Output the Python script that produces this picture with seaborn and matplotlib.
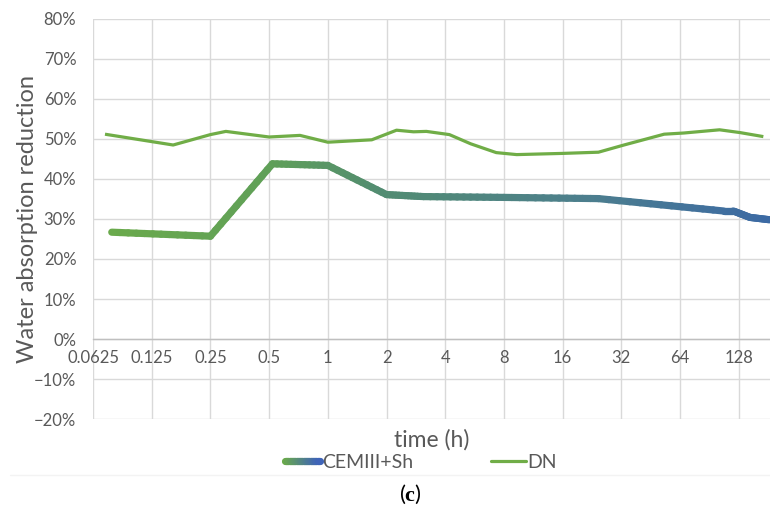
import numpy as np
import pandas as pd
import seaborn as sns
import matplotlib
matplotlib.use("Agg")
import matplotlib.pyplot as plt
from matplotlib.collections import LineCollection
from matplotlib.colors import LinearSegmentedColormap
from matplotlib.legend_handler import HandlerBase
from matplotlib.lines import Line2D
from matplotlib.ticker import FixedLocator, FuncFormatter, NullLocator

# ---------------- data ----------------
dn_time = [0.072, 0.161, 0.25, 0.30, 0.5, 0.72, 1.0, 1.68, 2.25, 2.75, 3.2, 4.2,
           5.4, 7.3, 9.3, 16, 24.4, 33, 53, 67, 102, 130, 171]
dn_value = [51.2, 48.5, 51.1, 51.9, 50.5, 50.9, 49.2, 49.8, 52.2, 51.8, 51.9, 51.1,
            48.8, 46.6, 46.1, 46.4, 46.7, 48.5, 51.2, 51.5, 52.3, 51.6, 50.6]

cem_time = [0.078, 0.25, 0.52, 1.0, 2.0, 3.1, 8.0, 24.4, 107, 120, 146, 185]
cem_value = [26.7, 25.7, 43.8, 43.4, 36.1, 35.6, 35.4, 35.1, 32.0, 32.0, 30.4, 29.8]

x_ticks = [0.0625, 0.125, 0.25, 0.5, 1, 2, 4, 8, 16, 32, 64, 128]
x_tick_labels = ["0.0625", "0.125", "0.25", "0.5", "1", "2", "4", "8", "16", "32", "64", "128"]
y_ticks = [-20, -10, 0, 10, 20, 30, 40, 50, 60, 70, 80]

series_names = ["CEMIII+Sh", "DN"]
x_title = "time (h)"
y_title = "Water absorption reduction"
caption_letter = "c"

# ---------------- style ----------------
sns.set_theme(style="white")
plt.rcParams["font.family"] = ["Lato", "DejaVu Sans"]
plt.rcParams["mathtext.fontset"] = "custom"
plt.rcParams["mathtext.rm"] = "Liberation Serif"
plt.rcParams["mathtext.bf"] = "Liberation Serif:bold"

TXT = "#595959"
GRID = "#D9D9D9"
DN_COLOR = "#70AD47"
cem_cmap = LinearSegmentedColormap.from_list(
    "cem", [(0.0, "#6BAB4A"), (0.26, "#60A058"), (0.43, "#528C72"),
            (0.74, "#4C7E8E"), (1.0, "#3C6AA4")])
leg_cmap = LinearSegmentedColormap.from_list("leg", ["#6BAB4A", "#3F64B8"])

XMIN, XMAX = 0.0625, 185.0

fig = plt.figure(figsize=(7.7, 5.05), dpi=100)
fig.patch.set_facecolor("white")
ax = fig.add_axes([93 / 770, 1 - 419 / 505, 677 / 770, 400 / 505])

ax.set_xscale("log", base=2)
ax.set_xlim(XMIN, XMAX)
ax.set_ylim(-20, 80)

# DN line
df_dn = pd.DataFrame({"time": dn_time, "value": dn_value})
sns.lineplot(data=df_dn, x="time", y="value", ax=ax, color=DN_COLOR,
             linewidth=2.3, estimator=None, sort=False, zorder=3,
             solid_capstyle="butt")

# CEMIII+Sh gradient line (segments between read points, subdivided for colour)
ct = np.log2(np.array(cem_time, dtype=float))
cv = np.array(cem_value, dtype=float)
segs, cols = [], []
lo, hi = np.log2(XMIN), np.log2(XMAX)
for i in range(len(ct) - 1):
    n = 12
    fr = np.linspace(0, 1, n + 1)
    lx = ct[i] + (ct[i + 1] - ct[i]) * fr
    ly = cv[i] + (cv[i + 1] - cv[i]) * fr
    for k in range(n):
        segs.append([(2 ** lx[k], ly[k]), (2 ** lx[k + 1], ly[k + 1])])
        cols.append(cem_cmap(((lx[k] + lx[k + 1]) / 2 - lo) / (hi - lo)))
lc = LineCollection(segs, colors=cols, linewidths=5.2, capstyle="round",
                    joinstyle="round", zorder=4)
ax.add_collection(lc)

# axes styling
ax.xaxis.set_major_locator(FixedLocator(x_ticks))
ax.xaxis.set_minor_locator(NullLocator())
ax.set_xticklabels(x_tick_labels)
ax.yaxis.set_major_locator(FixedLocator(y_ticks))
ax.yaxis.set_major_formatter(FuncFormatter(
    lambda v, p: (f"{int(v)}%" if v >= 0 else f"\u2212{int(-v)}%")))
ax.grid(True, color=GRID, linewidth=1.0)
for s in ["top", "right", "left"]:
    ax.spines[s].set_visible(False)
ax.spines["bottom"].set_position(("data", 0))
ax.spines["bottom"].set_color("#BFBFBF")
ax.spines["bottom"].set_linewidth(1.0)
ax.tick_params(axis="both", length=0, colors=TXT, labelsize=12)
ax.tick_params(axis="x", pad=8)
ax.tick_params(axis="y", pad=12)

ax.set_xlabel(x_title, fontsize=16.5, color=TXT)
ax.set_ylabel(y_title, fontsize=17, color=TXT)
ax.xaxis.set_label_coords(0.5, -0.025)
ax.xaxis.label.set_va("top")
ax.yaxis.set_label_coords(-0.097, 0.5)
ax.yaxis.label.set_va("center")


# legend with gradient handle
class GradientHandler(HandlerBase):
    def create_artists(self, legend, orig_handle, xdescent, ydescent,
                       width, height, fontsize, trans):
        n = 30
        xs = np.linspace(0, width, n + 1) - xdescent
        y = height / 2 - ydescent
        sg = [[(xs[i], y), (xs[i + 1], y)] for i in range(n)]
        c = leg_cmap(np.linspace(0, 1, n))
        art = LineCollection(sg, colors=c, linewidths=5.2, capstyle="round",
                             transform=trans)
        return [art]


cem_handle = Line2D([], [], color="#5590A0", linewidth=5.2)
dn_handle = Line2D([], [], color=DN_COLOR, linewidth=2.3)
leg = fig.legend([cem_handle, dn_handle], series_names,
                 loc="center", bbox_to_anchor=(421 / 770, 1 - 462.7 / 505),
                 ncol=2, frameon=False, fontsize=14, handlelength=1.8,
                 handletextpad=0.1, columnspacing=4.0,
                 handler_map={cem_handle: GradientHandler()})
for t in leg.get_texts():
    t.set_color(TXT)

# faint separator and caption
fig.add_artist(Line2D([10 / 770, 1.0], [1 - 475 / 505] * 2, color="#F3F3F3",
                      linewidth=1.0, transform=fig.transFigure))
fig.text(410 / 770, 1 - 494 / 505, r"($\mathbf{" + caption_letter + r"}$)",
         ha="center", va="center", fontsize=16, color="black")

fig.savefig("out.png", dpi=100, facecolor="white")
